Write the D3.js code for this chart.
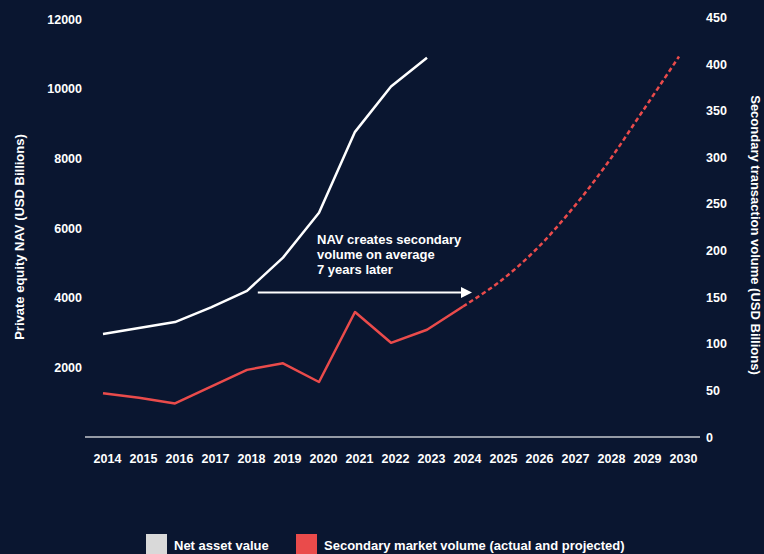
<!DOCTYPE html>
<html>
<head>
<meta charset="utf-8">
<script src="https://cdn.jsdelivr.net/npm/d3@7"></script>
<style>
  html, body { margin: 0; padding: 0; background: #0a1630; }
  svg { display: block; }
  text { font-family: "Liberation Sans", Arial, Helvetica, sans-serif; font-weight: bold; fill: #ffffff; }
</style>
</head>
<body>
<script>
// ---- data ----
const navYears = [2014, 2015, 2016, 2017, 2018, 2019, 2020, 2021, 2022, 2023];
const navValues = [2960, 3130, 3300, 3720, 4195, 5150, 6440, 8760, 10060, 10890];

const secYears = [2014, 2015, 2016, 2017, 2018, 2019, 2020, 2021, 2022, 2023, 2024];
const secValues = [47, 42, 36, 54, 72, 79, 59, 134, 101, 115, 140];

const projYears = [2024, 2025, 2026, 2027, 2028, 2029, 2030];
const projValues = [140, 166, 200, 243, 293, 350, 408];

const xTickYears = d3.range(2014, 2031);
const leftTicks = [2000, 4000, 6000, 8000, 10000, 12000];
const rightTicks = [0, 50, 100, 150, 200, 250, 300, 350, 400, 450];

const leftTitle = "Private equity NAV (USD Billions)";
const rightTitle = "Secondary transaction volume (USD Billions)";
const annotation = ["NAV creates secondary", "volume on average", "7 years later"];
const legendItems = [
  { label: "Net asset value", color: "#d9d9d9" },
  { label: "Secondary market volume (actual and projected)", color: "#ea4b4b" }
];

// ---- setup ----
const W = 764, H = 554;
const RED = "#ea4b4b";
const svg = d3.select("body").append("svg").attr("width", W).attr("height", H);
svg.append("rect").attr("width", W).attr("height", H).attr("fill", "#0a1630");

const x = d3.scaleLinear().domain([2014, 2030]).range([103, 679]);
const yL = d3.scaleLinear().domain([0, 12000]).range([437, 19]);
const yR = d3.scaleLinear().domain([0, 450]).range([437, 17.4]);

// baseline
svg.append("line").attr("x1", 85).attr("x2", 700).attr("y1", 437).attr("y2", 437)
  .attr("stroke", "#c4c7cc").attr("stroke-width", 1.5);

const styleTicks = g => g.selectAll("text").attr("fill", "#fff").style("font-size", "12.5px")
  .style("font-family", "Liberation Sans, Arial, sans-serif").style("font-weight", "bold");

// left axis labels
const leftAxis = d3.axisLeft(yL).tickValues(leftTicks).tickSize(0).tickPadding(0).tickFormat(d3.format("d"));
const gL = svg.append("g").attr("transform", "translate(82,0)").call(leftAxis);
gL.select(".domain").remove();
styleTicks(gL);

// right axis labels
const rightAxis = d3.axisRight(yR).tickValues(rightTicks).tickSize(0).tickPadding(0).tickFormat(d3.format("d"));
const gR = svg.append("g").attr("transform", "translate(706,0)").call(rightAxis);
gR.select(".domain").remove();
styleTicks(gR);

// x axis labels
const xAxis = d3.axisBottom(x).tickValues(xTickYears).tickSize(0).tickPadding(0).tickFormat(d3.format("d"));
const gX = svg.append("g").attr("transform", "translate(4,454)").call(xAxis);
gX.select(".domain").remove();
styleTicks(gX);

// axis titles
svg.append("text").attr("transform", "translate(24,237) rotate(-90)").attr("text-anchor", "middle")
  .style("font-size", "13px").text(leftTitle);
svg.append("text").attr("transform", "translate(751,235) rotate(90)").attr("text-anchor", "middle")
  .style("font-size", "13px").text(rightTitle);

// lines
const navLine = d3.line().x((d, i) => x(navYears[i])).y(d => yL(d));
svg.append("path").attr("d", navLine(navValues)).attr("fill", "none")
  .attr("stroke", "#ffffff").attr("stroke-width", 2.5).attr("stroke-linejoin", "round");

const secLine = d3.line().x((d, i) => x(secYears[i])).y(d => yR(d));
svg.append("path").attr("d", secLine(secValues)).attr("fill", "none")
  .attr("stroke", RED).attr("stroke-width", 2.5).attr("stroke-linejoin", "round");

const projLine = d3.line().curve(d3.curveCatmullRom).x((d, i) => x(projYears[i])).y(d => yR(d));
svg.append("path").attr("d", projLine(projValues)).attr("fill", "none")
  .attr("stroke", RED).attr("stroke-width", 2.5).attr("stroke-dasharray", "4.5,3");

// annotation arrow
const arrowY = yL(4150);
const ax1 = x(2018.3), ax2 = x(2024.25);
svg.append("line").attr("x1", ax1).attr("x2", ax2 - 9).attr("y1", arrowY).attr("y2", arrowY)
  .attr("stroke", "#fff").attr("stroke-width", 2);
svg.append("path").attr("d", `M${ax2 - 11},${arrowY - 5.5}L${ax2},${arrowY}L${ax2 - 11},${arrowY + 5.5}Z`).attr("fill", "#fff");

const ann = svg.append("text").attr("x", 317).attr("y", 244).style("font-size", "13px");
annotation.forEach((t, i) => ann.append("tspan").attr("x", 317).attr("dy", i === 0 ? 0 : 15).text(t));

// legend
const lg = svg.append("g");
legendItems.forEach((it, i) => {
  const gx = i === 0 ? 146 : 296;
  lg.append("rect").attr("x", gx).attr("y", 534).attr("width", 21).attr("height", 22).attr("fill", it.color);
  lg.append("text").attr("x", gx + 28).attr("y", 550).style("font-size", "13px").text(it.label);
});
</script>
</body>
</html>
